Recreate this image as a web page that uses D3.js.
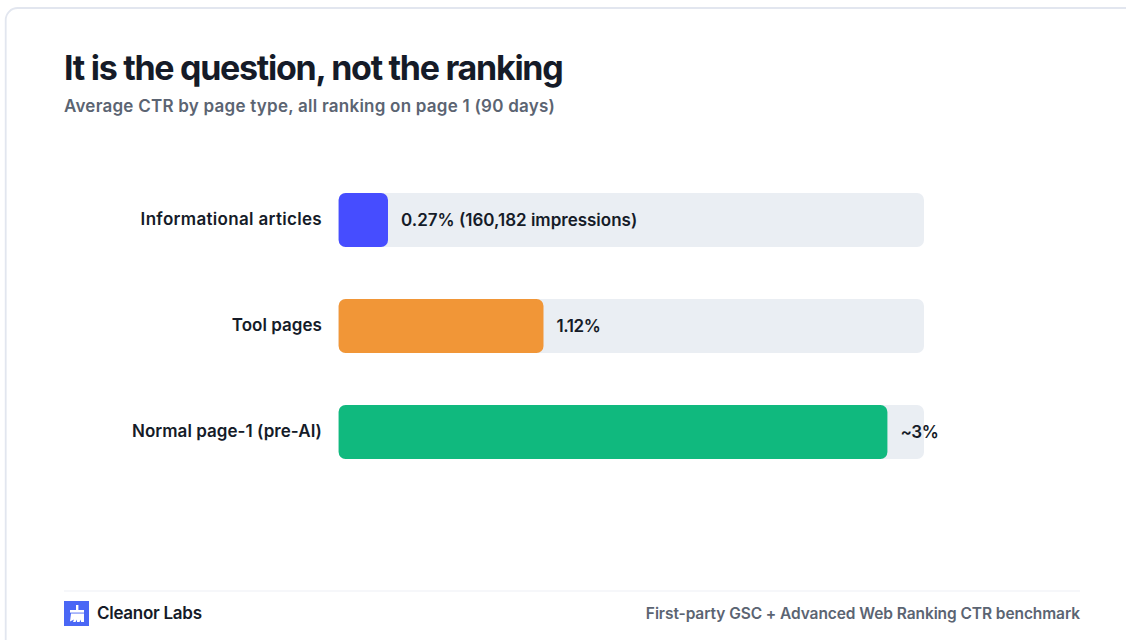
<!DOCTYPE html>
<html>
<head>
<meta charset="utf-8">
<script src="https://cdn.jsdelivr.net/npm/d3@7"></script>
<style>
  html, body { margin: 0; padding: 0; background: #fff; overflow: hidden; }
  svg { display: block; font-family: Inter, "Noto Sans", sans-serif; }
</style>
</head>
<body>
<svg id="chart" width="1126" height="640"></svg>
<script>
// CTR figures by page type
const categories = ["Informational articles", "Tool pages", "Normal page-1 (pre-AI)"];
const ctrValues = [0.27, 1.12, 3];
const valueLabels = ["0.27% (160,182 impressions)", "1.12%", "~3%"];
const barColors = ["#464DFF", "#F19637", "#10B97E"];
const ctrDomainMax = 3.2;

const titleText = "It is the question, not the ranking";
const subtitleText = "Average CTR by page type, all ranking on page 1 (90 days)";
const brandText = "Cleanor Labs";
const sourceText = "First-party GSC + Advanced Web Ranking CTR benchmark";

const svg = d3.select("#chart");

// Card outline runs off the right and bottom edges
svg.append("rect")
  .attr("x", 5.7).attr("y", 8)
  .attr("width", 1200).attr("height", 720)
  .attr("rx", 12)
  .attr("fill", "#fff")
  .attr("stroke", "#E2E6EF")
  .attr("stroke-width", 1.8);

svg.append("text")
  .attr("x", 64).attr("y", 80)
  .attr("font-size", 34).attr("font-weight", 700)
  .attr("letter-spacing", -1.28)
  .attr("fill", "#151B28")
  .text(titleText);

svg.append("text")
  .attr("x", 64).attr("y", 112)
  .attr("font-size", 17).attr("font-weight", 600)
  .attr("letter-spacing", 0.24)
  .attr("fill", "#5B6472")
  .text(subtitleText);

const x = d3.scaleLinear().domain([0, ctrDomainMax]).range([338.6, 924]);
const y = d3.scaleBand().domain(categories).range([193, 459]).paddingInner(52 / 106);

// Category labels come from a band axis with its line and ticks removed
const yAxis = svg.append("g")
  .attr("transform", "translate(339,0)")
  .call(d3.axisLeft(y).tickSize(0).tickPadding(17));
yAxis.select(".domain").remove();
yAxis.selectAll("text")
  .attr("font-family", "Inter, sans-serif")
  .attr("font-size", 17).attr("font-weight", 600)
  .attr("letter-spacing", (d, i) => (i === 0 ? 0.32 : 0.04))
  .attr("fill", "#151B28");

const rows = svg.append("g").selectAll("g")
  .data(categories.map((c, i) => ({ c, v: ctrValues[i], label: valueLabels[i], color: barColors[i] })))
  .join("g");

rows.append("rect")
  .attr("x", x(0)).attr("y", d => y(d.c))
  .attr("width", x(ctrDomainMax) - x(0)).attr("height", y.bandwidth())
  .attr("rx", 7)
  .attr("fill", "#EAEEF3");

rows.append("rect")
  .attr("x", x(0)).attr("y", d => y(d.c))
  .attr("width", d => x(d.v) - x(0)).attr("height", y.bandwidth())
  .attr("rx", 7)
  .attr("fill", d => d.color);

rows.append("text")
  .attr("x", d => x(d.v) + 13)
  .attr("y", d => y(d.c) + y.bandwidth() / 2)
  .attr("dy", "0.35em")
  .attr("font-size", 17).attr("font-weight", 600)
  .attr("letter-spacing", (d, i) => (i === 0 ? 0 : -0.4))
  .attr("fill", "#151B28")
  .text(d => d.label);

// Footer
svg.append("line")
  .attr("x1", 64).attr("x2", 1080).attr("y1", 591).attr("y2", 591)
  .attr("stroke", "#EDF0F5").attr("stroke-width", 1.2);

const logo = svg.append("g").attr("transform", "translate(64,601)");
logo.append("rect").attr("width", 25).attr("height", 25).attr("fill", "#4A67F5");
// Broom glyph: handle, collar and bristles with a frayed lower edge
logo.append("rect").attr("x", 12).attr("y", 4).attr("width", 2.4).attr("height", 6).attr("fill", "#fff");
logo.append("rect").attr("x", 6).attr("y", 9).attr("width", 14).attr("height", 2.6).attr("fill", "#fff");
logo.append("path")
  .attr("d", "M7 12.6H20V21H17V18.5L15.5 21H13V18.5L11.5 21H9L10 18.5L6 20.5Z")
  .attr("fill", "#fff");

svg.append("text")
  .attr("x", 97).attr("y", 619)
  .attr("font-size", 17).attr("font-weight", 600)
  .attr("letter-spacing", -0.28)
  .attr("fill", "#151B28")
  .text(brandText);

svg.append("text")
  .attr("x", 1080).attr("y", 619)
  .attr("text-anchor", "end")
  .attr("font-size", 15.5).attr("font-weight", 600)
  .attr("letter-spacing", -0.08)
  .attr("fill", "#5B6472")
  .text(sourceText);
</script>
</body>
</html>
